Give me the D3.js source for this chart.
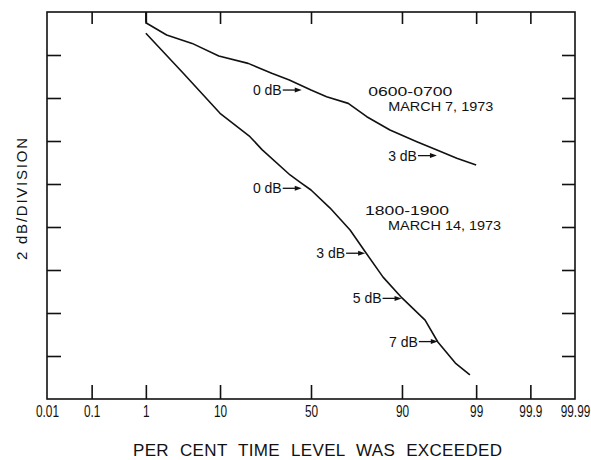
<!DOCTYPE html>
<html>
<head>
<meta charset="utf-8">
<script src="https://cdn.jsdelivr.net/npm/d3@7"></script>
<style>
  html, body { margin: 0; padding: 0; background: #fff; }
  svg { display: block; }
  text { font-family: "Liberation Sans", Arial, Helvetica, sans-serif; fill: #111; }
</style>
</head>
<body>
<svg id="chart" width="591" height="460"></svg>
<script>
// ---------- data ----------
const tickPercents = [0.01, 0.1, 1, 10, 50, 90, 99, 99.9, 99.99];
const tickLabels   = ["0.01", "0.1", "1", "10", "50", "90", "99", "99.9", "99.99"];
const levelTicks   = [0, 2, 4, 6, 8, 10, 12, 14, 16, 18];   // 2 dB per division

// 0600-0700 March 7, 1973
const marchSevenPct = [1.0, 2.1, 4.7, 9.7, 18.8, 29, 38, 50, 58.7, 70.0, 78.4, 86.7, 93.2, 96.2, 98.0, 99.0];
const marchSevenDb  = [17.50, 16.93, 16.54, 15.95, 15.61, 15.15, 14.84, 14.37, 14.06, 13.75, 13.13, 12.51, 11.97, 11.58, 11.20, 10.88];

// 1800-1900 March 14, 1973
const marchFourteenPct = [1.0, 3.6, 10, 19.5, 24.5, 38.4, 43.8, 50, 60.6, 70.9, 78.1, 84.5, 90.0, 94.6, 96.3, 97.9, 98.74];
const marchFourteenDb  = [17.01, 15.15, 13.29, 12.2, 11.6, 10.42, 10.09, 9.72, 8.88, 7.86, 6.79, 5.67, 4.70, 3.67, 2.65, 1.67, 1.12];

// level markers (arrow tip on curve)
const markerText = ["0 dB", "3 dB", "0 dB", "3 dB", "5 dB", "7 dB"];
const markerPct  = [44.8, 96.2, 44.8, 77.7, 89.9, 96.3];
const markerDb   = [14.37, 11.32, 9.80, 6.78, 4.68, 2.67];

const seriesTitles = [["0600-0700", "MARCH 7, 1973"], ["1800-1900", "MARCH 14, 1973"]];

// ---------- probability (normal) transform ----------
function probit(p) {
  const a = [-3.969683028665376e+01, 2.209460984245205e+02, -2.759285104469687e+02, 1.383577518672690e+02, -3.066479806614716e+01, 2.506628277459239e+00];
  const b = [-5.447609879822406e+01, 1.615858368580409e+02, -1.556989798598866e+02, 6.680131188771972e+01, -1.328068155288572e+01];
  const c = [-7.784894002430293e-03, -3.223964580411365e-01, -2.400758277161838e+00, -2.549732539343734e+00, 4.374664141464968e+00, 2.938163982698783e+00];
  const d = [7.784695709041462e-03, 3.224671290700398e-01, 2.445134137142996e+00, 3.754408661907416e+00];
  const pl = 0.02425, ph = 1 - pl;
  let q, r;
  if (p < pl) {
    q = Math.sqrt(-2 * Math.log(p));
    return (((((c[0]*q+c[1])*q+c[2])*q+c[3])*q+c[4])*q+c[5]) / ((((d[0]*q+d[1])*q+d[2])*q+d[3])*q+1);
  } else if (p <= ph) {
    q = p - 0.5; r = q*q;
    return (((((a[0]*r+a[1])*r+a[2])*r+a[3])*r+a[4])*r+a[5])*q / (((((b[0]*r+b[1])*r+b[2])*r+b[3])*r+b[4])*r+1);
  } else {
    q = Math.sqrt(-2 * Math.log(1 - p));
    return -(((((c[0]*q+c[1])*q+c[2])*q+c[3])*q+c[4])*q+c[5]) / ((((d[0]*q+d[1])*q+d[2])*q+d[3])*q+1);
  }
}
const z = pct => probit(pct / 100);

// ---------- layout ----------
const L = 47, R = 575, T = 12, B = 399;
const svg = d3.select("#chart");

const xz = d3.scaleLinear().domain([z(0.01), z(99.99)]).range([L, R]);
const y  = d3.scaleLinear().domain([0, 18]).range([B, T]);
const xp = pct => xz(z(pct));

const innerTickZ = tickPercents.slice(1, -1).map(z);
const allTickZ = tickPercents.map(z);

// bottom ticks (inside)
svg.append("g").attr("transform", `translate(0,${B})`)
  .call(d3.axisBottom(xz).tickValues(innerTickZ).tickSizeInner(-14).tickSizeOuter(0).tickFormat(""));
// bottom labels
const gBottomLabels = svg.append("g").attr("transform", `translate(0,${B})`)
  .call(d3.axisBottom(xz).tickValues(allTickZ).tickSize(0).tickPadding(7)
    .tickFormat((d, i) => tickLabels[i]));
gBottomLabels.selectAll("text")
  .attr("font-size", 16)
  .attr("transform", "scale(0.74,1)")
  .style("font-family", "'Liberation Sans', Arial, sans-serif");
// top ticks (inside)
svg.append("g").attr("transform", `translate(0,${T})`)
  .call(d3.axisTop(xz).tickValues(innerTickZ).tickSizeInner(-12).tickSizeOuter(0).tickFormat(""));
// left / right ticks
const innerLevels = levelTicks.slice(1, -1);
svg.append("g").attr("transform", `translate(${L},0)`)
  .call(d3.axisLeft(y).tickValues(innerLevels).tickSizeInner(-14).tickSizeOuter(0).tickFormat(""));
svg.append("g").attr("transform", `translate(${R},0)`)
  .call(d3.axisRight(y).tickValues(innerLevels).tickSizeInner(-13).tickSizeOuter(0).tickFormat(""));

svg.selectAll(".domain").remove();
svg.selectAll(".tick line").attr("stroke", "#111").attr("stroke-width", 1.6);

// frame
svg.append("rect")
  .attr("x", L).attr("y", T).attr("width", R - L).attr("height", B - T)
  .attr("fill", "none").attr("stroke", "#111").attr("stroke-width", 1.6);

// curves
const line = d3.line().x(d => xp(d[0])).y(d => y(d[1]));
const curves = [
  marchSevenPct.map((p, i) => [p, marchSevenDb[i]]),
  marchFourteenPct.map((p, i) => [p, marchFourteenDb[i]])
];
svg.selectAll("path.curve").data(curves).join("path")
  .attr("class", "curve")
  .attr("d", line)
  .attr("fill", "none").attr("stroke", "#111").attr("stroke-width", 1.6)
  .attr("stroke-linejoin", "round");

// short lead from the top edge to the start of the upper curve
svg.append("line")
  .attr("x1", xp(marchSevenPct[0])).attr("x2", xp(marchSevenPct[0]))
  .attr("y1", T).attr("y2", y(marchSevenDb[0]))
  .attr("stroke", "#111").attr("stroke-width", 1.6);

// level markers
const mk = svg.append("g");
markerText.forEach((t, i) => {
  const tx = xp(markerPct[i]), ty = y(markerDb[i]);
  const g = mk.append("g");
  g.append("line").attr("x1", tx - 19).attr("x2", tx - 5).attr("y1", ty).attr("y2", ty)
    .attr("stroke", "#111").attr("stroke-width", 1.3);
  g.append("path").attr("d", `M${tx},${ty} L${tx - 7},${ty - 2.5} L${tx - 7},${ty + 2.5} Z`).attr("fill", "#111");
  g.append("text").attr("x", tx - 20).attr("y", ty + 5)
    .attr("text-anchor", "end").attr("font-size", 14).text(t);
});

// series titles (anchored on the curves)
const titleAnchors = [[xp(70.0), y(13.75)], [xp(60.6), y(8.88)]];
const titleOffsets = [[[20, -7.5], [40, 7.5]], [[35, 7], [58, 22]]];
seriesTitles.forEach((lines, s) => {
  lines.forEach((t, j) => {
    svg.append("text")
      .attr("x", titleAnchors[s][0] + titleOffsets[s][j][0])
      .attr("y", titleAnchors[s][1] + titleOffsets[s][j][1])
      .attr("font-size", 13.5)
      .attr("textLength", j === 0 ? 84 : (s === 0 ? 105 : 113)).attr("lengthAdjust", "spacingAndGlyphs")
      .text(t);
  });
});

// axis titles
svg.append("text")
  .attr("transform", `translate(27,199) rotate(-90)`)
  .attr("text-anchor", "middle")
  .attr("font-size", 15)
  .attr("textLength", 122).attr("lengthAdjust", "spacing")
  .text("2 dB/DIVISION");

svg.append("text")
  .attr("x", 133).attr("y", 456)
  .attr("font-size", 17)
  .attr("word-spacing", 6)
  .attr("textLength", 369).attr("lengthAdjust", "spacing")
  .text("PER CENT TIME LEVEL WAS EXCEEDED");
</script>
</body>
</html>
